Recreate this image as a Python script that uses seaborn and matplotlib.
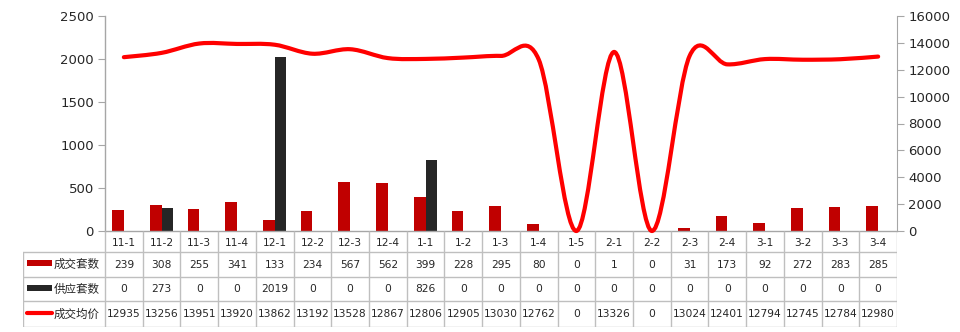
import numpy as np
import pandas as pd
import matplotlib
matplotlib.use("Agg")
import matplotlib.pyplot as plt
import seaborn as sns
from matplotlib.path import Path
from matplotlib.patches import PathPatch, Rectangle

categories = ["11-1", "11-2", "11-3", "11-4", "12-1", "12-2", "12-3", "12-4",
              "1-1", "1-2", "1-3", "1-4", "1-5", "2-1", "2-2", "2-3", "2-4",
              "3-1", "3-2", "3-3", "3-4"]
deals = [239, 308, 255, 341, 133, 234, 567, 562, 399, 228, 295, 80, 0, 1, 0,
         31, 173, 92, 272, 283, 285]
supply = [0, 273, 0, 0, 2019, 0, 0, 0, 826, 0, 0, 0, 0, 0, 0, 0, 0, 0, 0, 0, 0]
price = [12935, 13256, 13951, 13920, 13862, 13192, 13528, 12867, 12806, 12905,
         13030, 12762, 0, 13326, 0, 13024, 12401, 12794, 12745, 12784, 12980]
series_names = ["成交套数", "供应套数", "成交均价"]

RED_BAR = "#C00000"
DARK_BAR = "#262626"
RED_LINE = "#FF0000"
GRID = "#BFBFBF"
TXT = "#262626"

sns.set_style("white")
plt.rcParams["font.family"] = ["DejaVu Sans", "Noto Sans CJK SC"]

W, H = 960, 332
fig = plt.figure(figsize=(W / 100, H / 100), dpi=100)

left_px, right_px, top_px, base_px = 105, 897, 16, 231
ax = fig.add_axes([left_px / W, 1 - base_px / H, (right_px - left_px) / W, (base_px - top_px) / H])

df = pd.DataFrame({
    "cat": categories * 2,
    "value": deals + supply,
    "series": [series_names[0]] * len(categories) + [series_names[1]] * len(categories),
})
sns.barplot(data=df, x="cat", y="value", hue="series", order=categories,
            hue_order=series_names[:2], palette=[RED_BAR, DARK_BAR],
            width=0.62, ax=ax, legend=False, saturation=1, linewidth=0)
ax.set_xlim(-0.5, len(categories) - 0.5)
ax.set_ylim(0, 2500)
ax.set_yticks(range(0, 2501, 500))
ax.set_xlabel("")
ax.set_ylabel("")
ax.set_xticks([])
for s in ["top", "right"]:
    ax.spines[s].set_visible(False)
for s in ["left", "bottom"]:
    ax.spines[s].set_color("#A6A6A6")
    ax.spines[s].set_linewidth(1)
ax.tick_params(axis="y", direction="out", length=5, color="#A6A6A6",
               labelsize=9.5, labelcolor=TXT, pad=3)

ax2 = ax.twinx()
ax2.set_ylim(0, 16000)
ax2.set_yticks(range(0, 16001, 2000))
for s in ["top", "left", "bottom"]:
    ax2.spines[s].set_visible(False)
ax2.spines["right"].set_color("#A6A6A6")
ax2.tick_params(axis="y", direction="out", length=5, color="#A6A6A6",
                labelsize=9.5, labelcolor=TXT, pad=3)
ax2.grid(False)
ax.grid(False)

# smooth line (Catmull-Rom style Bezier through the data points)
xs = np.arange(len(price), dtype=float)
ys = np.array(price, dtype=float)
verts = [(xs[0], ys[0])]
codes = [Path.MOVETO]
n = len(xs)
for i in range(n - 1):
    p0 = (xs[max(i - 1, 0)], ys[max(i - 1, 0)])
    p1 = (xs[i], ys[i])
    p2 = (xs[i + 1], ys[i + 1])
    p3 = (xs[min(i + 2, n - 1)], ys[min(i + 2, n - 1)])
    c1 = (p1[0] + (p2[0] - p0[0]) / 6, p1[1] + (p2[1] - p0[1]) / 6)
    c2 = (p2[0] - (p3[0] - p1[0]) / 6, p2[1] - (p3[1] - p1[1]) / 6)
    verts += [c1, c2, p2]
    codes += [Path.CURVE4] * 3
patch = PathPatch(Path(verts, codes), facecolor="none", edgecolor=RED_LINE,
                  lw=3, transform=ax2.transData, clip_on=False,
                  capstyle="round", joinstyle="round")
ax2.add_patch(patch)

# data table
tab_left_px = 23
tab_bottom_px = 327
tax = fig.add_axes([tab_left_px / W, 1 - tab_bottom_px / H,
                    (right_px - tab_left_px) / W, (tab_bottom_px - base_px) / H])
col_px = (right_px - left_px) / len(categories)
hdr = (left_px - tab_left_px) / col_px
x0 = -0.5 - hdr
tax.set_xlim(x0, len(categories) - 0.5)
tax.set_ylim(96, 0)
tax.axis("off")
rows = [0, 21, 46, 70, 96]
for i in range(len(categories) + 1):
    tax.plot([i - 0.5, i - 0.5], [0, 96], color=GRID, lw=1, solid_capstyle="butt")
tax.plot([x0, x0], [21, 96], color=GRID, lw=1)
for r in rows[1:]:
    tax.plot([x0, len(categories) - 0.5], [r, r], color=GRID, lw=1)

fs = 7.7
for i, c in enumerate(categories):
    tax.text(i, (rows[0] + rows[1]) / 2 + 1, c, ha="center", va="center", fontsize=fs, color=TXT)
    tax.text(i, (rows[1] + rows[2]) / 2, str(deals[i]), ha="center", va="center", fontsize=fs, color=TXT)
    tax.text(i, (rows[2] + rows[3]) / 2, str(supply[i]), ha="center", va="center", fontsize=fs, color=TXT)
    tax.text(i, (rows[3] + rows[4]) / 2, str(price[i]), ha="center", va="center", fontsize=fs, color=TXT)

key_x = x0 + 4 / col_px
key_w = 25 / col_px
for k, (name, col) in enumerate(zip(series_names, [RED_BAR, DARK_BAR, RED_LINE])):
    yc = (rows[k + 1] + rows[k + 2]) / 2
    if k < 2:
        tax.add_patch(Rectangle((key_x, yc - 4.5), key_w, 6, facecolor=col, edgecolor="none"))
    else:
        tax.plot([key_x, key_x + key_w], [yc - 1.5, yc - 1.5], color=col, lw=3)
    tax.text(key_x + key_w + 1.5 / col_px, yc, name, ha="left", va="center",
             fontsize=8.3, color=TXT, family=["Noto Sans CJK SC", "DejaVu Sans"])

fig.savefig("out.png", dpi=100)
